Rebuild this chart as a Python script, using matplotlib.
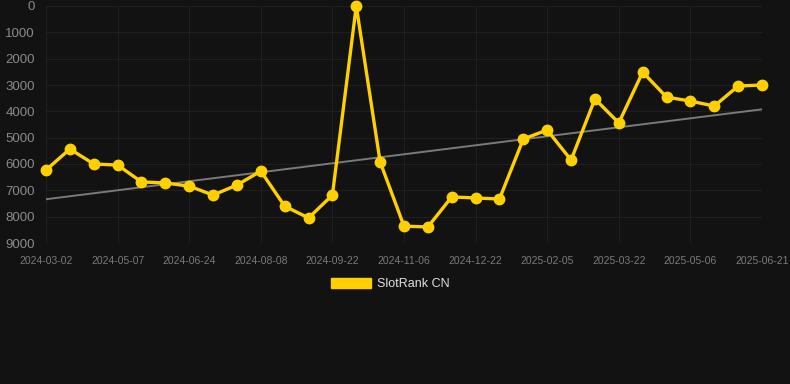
import numpy as np
import matplotlib
matplotlib.use('Agg')
import matplotlib.pyplot as plt
from matplotlib.patches import Patch

plt.rcParams['font.family'] = ['Liberation Sans', 'DejaVu Sans']

# rank per sample (lower is better)
ranks = [6230, 5430, 6000, 6040, 6680, 6720, 6840, 7180, 6800, 6270,
         7600, 8050, 7180, 0, 5920, 8360, 8390, 7250, 7290, 7330,
         5050, 4710, 5850, 3530, 4440, 2510, 3460, 3610, 3800, 3040, 3000]
tick_labels = ['2024-03-02', '2024-05-07', '2024-06-24', '2024-08-08',
               '2024-09-22', '2024-11-06', '2024-12-22', '2025-02-05',
               '2025-03-22', '2025-05-06', '2025-06-21']
y_ticks = [0, 1000, 2000, 3000, 4000, 5000, 6000, 7000, 8000, 9000]
series_name = 'SlotRank CN'

bg = '#121212'
yellow = '#FFD000'

x = np.arange(len(ranks))
slope, icpt = np.polyfit(x, ranks, 1)

fig = plt.figure(figsize=(7.9, 3.84), dpi=100, facecolor=bg)
ax = fig.add_axes([46/790, 1-243/384, (762-46)/790, (243-6)/384])
ax.set_facecolor(bg)

ax.plot(x, slope*x + icpt, color='#7a7a7a', lw=1.4, zorder=2)
ax.plot(x, ranks, color=yellow, lw=2.4, marker='o', ms=7.5,
        clip_on=False, zorder=3)

ax.set_xlim(0, len(ranks)-1)
ax.set_ylim(9000, 0)
ax.set_yticks(y_ticks)
ax.set_yticklabels([str(v) for v in y_ticks])
ax.set_xticks(x[::3])
ax.set_xticklabels(tick_labels)

ax.grid(True, color='#1f1f1f', lw=0.8)
for s in ax.spines.values():
    s.set_visible(False)
ax.tick_params(axis='y', length=0, pad=8, labelsize=9.5, labelcolor='#8a8a8a')
ax.tick_params(axis='x', length=0, pad=9, labelsize=7.5, labelcolor='#7a7a7a')

fig.legend(handles=[Patch(facecolor=yellow, edgecolor=yellow, label=series_name)],
           loc='center', bbox_to_anchor=(0.494, 1-284/384), frameon=False,
           handlelength=3.2, handleheight=0.95, handletextpad=0.5,
           fontsize=9, labelcolor='#e0e0e0')

fig.savefig('out.png', dpi=100, facecolor=bg)
